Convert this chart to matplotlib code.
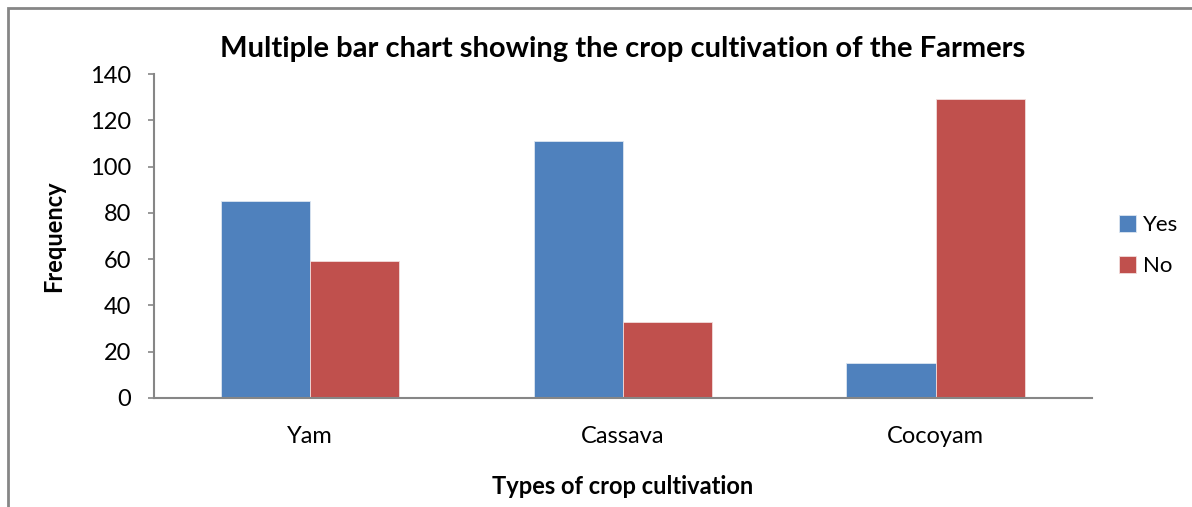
import numpy as np
import matplotlib.pyplot as plt
from matplotlib.patches import Rectangle

# data
crops = ["Yam", "Cassava", "Cocoyam"]
yes_vals = [85, 111, 15]
no_vals = [59, 33, 129]
y_ticks = [0, 20, 40, 60, 80, 100, 120, 140]

plt.rcParams['font.family'] = ['Lato', 'DejaVu Sans']

fig = plt.figure(figsize=(11.92, 5.07), dpi=100)
ax = fig.add_axes([0.1292, 0.215, 0.7868, 0.639])

x = np.arange(len(crops))
w = 0.285
ax.bar(x - w / 2, yes_vals, w, color='#4F81BD', edgecolor='#dce6f1', linewidth=0.6, label='Yes')
ax.bar(x + w / 2, no_vals, w, color='#C0504D', edgecolor='#f2dcdb', linewidth=0.6, label='No')

ax.set_xlim(-0.5, len(crops) - 0.5)
ax.set_ylim(0, 140)
ax.set_yticks(y_ticks)
ax.set_xticks(x)
ax.set_xticklabels(crops, fontsize=17)
ax.tick_params(axis='y', labelsize=17, length=4.5, width=1.2, color='#868686', pad=12)
ax.tick_params(axis='x', length=0, pad=20)

for s in ['top', 'right']:
    ax.spines[s].set_visible(False)
for s in ['left', 'bottom']:
    ax.spines[s].set_color('#868686')
    ax.spines[s].set_linewidth(1.5)

ax.set_title("Multiple bar chart showing the crop cultivation of the Farmers",
             fontsize=21, fontweight='bold', pad=12)
ax.set_xlabel("Types of crop cultivation", fontsize=17, fontweight='bold', labelpad=20)
ax.set_ylabel("Frequency", fontsize=17, fontweight='bold', labelpad=18)

ax.legend(loc='center left', bbox_to_anchor=(1.008, 0.47), frameon=False, fontsize=16,
          handlelength=0.75, handleheight=0.75, handletextpad=0.3, labelspacing=0.95)

# outer chart border (cropped on right/bottom in reference)
fig.patches.append(Rectangle((8 / 1192, -0.1), 1.2, 1 - 8 / 507 + 0.1,
                             transform=fig.transFigure, fill=False,
                             edgecolor='#868686', linewidth=2))

fig.savefig('out.png', dpi=100)
